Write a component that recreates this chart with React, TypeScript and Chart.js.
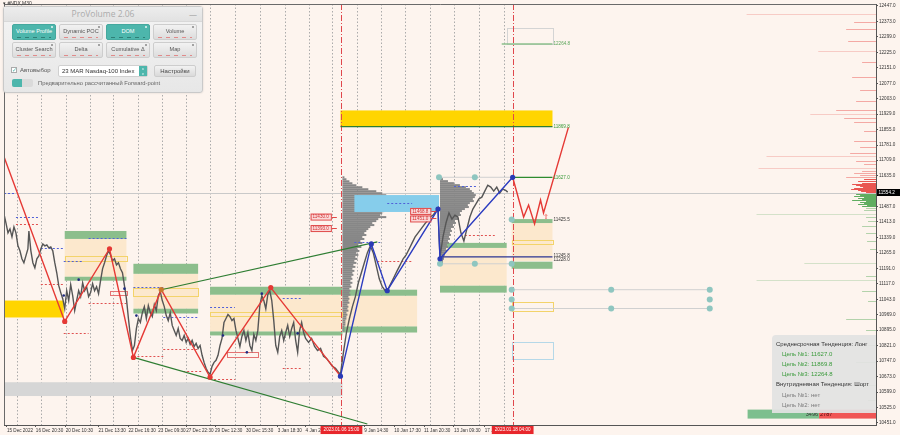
import React, { useEffect, useRef } from "react";
import { Chart, registerables } from "chart.js";

Chart.register(...registerables);

// ---------- axes ----------
const X_MIN = 0;
const X_MAX = 876;
const Y_MIN = 10441.3;
const Y_MAX = 12456.5;

const yTickValues = [12447, 12373, 12299, 12225, 12151, 12077, 12003, 11929, 11855, 11781, 11709, 11635, 11487, 11413, 11339, 11265, 11191, 11117, 11043, 10969, 10895, 10821, 10747, 10673, 10599, 10525, 10451];

const timeLabelBars = [3, 32, 62, 95, 125, 155, 183, 212, 243, 275, 303, 362, 392, 422, 452, 483];
const timeLabels = ["15 Dec 2022", "16 Dec 20:30", "20 Dec 10:30", "21 Dec 13:30", "22 Dec 16:30", "23 Dec 09:30", "27 Dec 22:30", "29 Dec 12:30", "30 Dec 15:30", "3 Jan 18:30", "4 Jan 21:30", "9 Jan 14:30", "10 Jan 17:30", "11 Jan 20:30", "13 Jan 09:30", "17 Jan 12:30"];

const sessionBars = [13, 37, 62, 86, 110, 135, 159, 183, 207, 232, 257, 282, 306, 330, 355, 379, 403, 428, 452, 477, 502];

const markerBars = [339, 511];
const markerLabels = ["2023.01.06 15:00", "2023.01.18 04:00"];

const currentPrice = 11554.2;

// ---------- price (bar, close) ----------
const pricePath: [number, number][] = [
  [0, 11451], [2, 11408], [4, 11361], [6, 11380], [8, 11342], [10, 11389], [12, 11361], [14, 11299], [16, 11275], [18, 11237],
  [20, 11218], [22, 11251], [24, 11284], [25, 11370], [27, 11275], [29, 11218], [31, 11194], [33, 11237], [35, 11251], [37, 11284],
  [39, 11308], [41, 11299], [43, 11303], [45, 11289], [47, 11294], [49, 11275], [51, 11218], [53, 11170], [55, 11108], [57, 11075],
  [59, 11046], [61, 10998], [63, 11084], [65, 11037], [67, 11113], [69, 11060], [71, 10989], [73, 11037], [75, 11084], [77, 11056],
  [79, 11122], [81, 11084], [83, 11103], [85, 11056], [87, 11075], [89, 11118], [91, 11084], [93, 11103], [95, 11070], [97, 11132],
  [99, 11189], [101, 11218], [103, 11251], [105, 11275], [107, 11256], [109, 11227], [111, 11237], [113, 11208], [115, 11218], [117, 11189],
  [119, 11170], [121, 11108], [123, 11046], [125, 10951], [127, 10865], [129, 10798], [131, 10822], [133, 10903], [135, 10951], [137, 10932],
  [139, 10979], [141, 11008], [143, 10951], [145, 11013], [147, 10979], [149, 10960], [151, 11017], [153, 10989], [155, 11060], [157, 11080],
  [159, 11037], [161, 11008], [163, 10965], [165, 10941], [167, 10979], [169, 10918], [171, 10894], [173, 10870], [175, 10903], [177, 10856],
  [179, 10846], [181, 10870], [183, 10837], [185, 10856], [187, 10827], [189, 10846], [191, 10817], [193, 10832], [195, 10808], [197, 10822],
  [199, 10775], [201, 10741], [203, 10713], [205, 10694], [207, 10684], [209, 10722], [211, 10741], [213, 10751], [215, 10775], [217, 10822],
  [219, 10856], [221, 10932], [223, 10951], [225, 10970], [227, 10960], [229, 10941], [231, 10951], [233, 10894], [235, 10856], [237, 10817],
  [239, 10865], [241, 10894], [243, 10846], [245, 10884], [247, 10822], [249, 10798], [251, 10875], [253, 10846], [255, 10894], [257, 11013],
  [259, 11060], [261, 11037], [263, 10998], [265, 11065], [267, 11084], [269, 11037], [271, 10941], [273, 10822], [275, 10789], [277, 10865],
  [279, 10894], [281, 10846], [283, 10884], [285, 10918], [287, 10865], [289, 10903], [291, 10932], [293, 10846], [295, 10789], [297, 10894],
  [299, 10932], [301, 10884], [303, 10856], [306, 10837], [309, 10856], [312, 10817], [315, 10798], [318, 10808], [321, 10770], [324, 10760],
  [327, 10741], [330, 10722], [333, 10713], [336, 10694], [338, 10684], [341, 10789], [344, 10884], [347, 10951], [350, 11008], [353, 11056],
  [356, 11122], [359, 11170], [362, 11218], [365, 11265], [368, 11299], [371, 11265], [374, 11203], [377, 11141], [380, 11103], [383, 11084],
  [386, 11094], [389, 11122], [392, 11151], [395, 11180], [398, 11208], [401, 11237], [404, 11256], [407, 11284], [410, 11313], [413, 11342],
  [416, 11361], [419, 11380], [422, 11399], [425, 11418], [428, 11437], [431, 11446], [434, 11465], [436, 11480], [437, 11346], [438, 11246],
  [441, 11342], [444, 11408], [447, 11456], [450, 11427], [453, 11446], [456, 11437], [459, 11361], [462, 11322], [465, 11380], [468, 11437],
  [471, 11475], [474, 11499], [477, 11523], [480, 11532], [483, 11561], [486, 11589], [489, 11580], [492, 11561], [495, 11580], [498, 11551],
  [501, 11570], [504, 11565], [506, 11556],
];

// ---------- zigzags / trend lines ----------
const redZigzag: [number, number][] = [[0, 11725], [61, 10937], [106, 11285], [130, 10765], [158, 11089], [207, 10670], [268, 11099], [338, 10675]];
const redPivotBars = [61, 106, 130, 158, 207, 268];
const blueZigzag: [number, number][] = [[338, 10675], [369, 11308], [385, 11084], [436, 11475], [438, 11237], [511, 11627]];
const forecastPath: [number, number][] = [[511, 11627], [522, 11437], [527, 11494], [533, 11404], [539, 11518], [542, 11456], [567, 11866]];
const trendUpper: [number, number][] = [[158, 11089], [375, 11318]];
const trendLower: [number, number][] = [[130, 10765], [365, 10446]];

const targetLines: [number, number, number, string][] = [
  [500, 551, 12264.8, "light"],
  [338, 551, 11869.8, "dark"],
  [511, 551, 11627.0, "green"],
  [438, 551, 11245.8, "navy"],
];
const levelLabels: [number, string, string][] = [
  [12264.8, "12264.8", "light"],
  [11869.8, "11869.8", "green"],
  [11627.0, "11627.0", "green"],
  [11425.5, "11425.5", "text"],
  [11250.0, "11245.8", "text"],
  [11232.0, "11228.0", "text"],
];

const tealDots: [number, number][] = [[437, 11627], [473, 11627], [438, 11213], [473, 11213], [510, 11425.5], [510, 11213], [510, 11089], [610, 11089], [709, 11089], [510, 11042], [709, 11042], [510, 10999], [610, 10999], [709, 10999]];
const tealLines: [number, number, number][] = [[437, 511, 11627], [438, 510, 11213], [510, 709, 11089], [510, 709, 10999]];
const smallPriceDots: [number, number][] = [[60, 11061], [75, 11137], [121, 11094], [133, 10965], [220, 10870], [244, 10789], [259, 11070], [295, 10880]];

// ---------- zones [barFrom, barTo, priceTop, priceBottom, kind] ----------
const zones: [number, number, number, number, string][] = [
  [61, 123, 11332, 11151, "beige"],
  [130, 195, 11165, 10998, "beige"],
  [207, 340, 11065, 10889, "beige"],
  [340, 415, 11060, 10913, "beige"],
  [438, 505, 11289, 11108, "beige"],
  [510, 551, 11408, 11227, "beige"],
  [0, 60, 11037, 10956, "gold"],
  [338, 551, 11947, 11870, "gold"],
  [0, 340, 10646, 10580, "gray"],
  [61, 123, 11370, 11332, "green"],
  [61, 123, 11151, 11132, "green"],
  [130, 195, 11213, 11165, "green"],
  [130, 195, 10998, 10975, "green"],
  [207, 340, 11103, 11065, "green"],
  [207, 340, 10889, 10870, "green"],
  [340, 415, 11089, 11060, "green"],
  [340, 415, 10913, 10884, "green"],
  [438, 505, 11313, 11289, "green"],
  [438, 505, 11108, 11075, "green"],
  [510, 551, 11427, 11408, "green"],
  [510, 551, 11223, 11189, "green"],
];
const zoneOutlines: [number, number, number, number, string][] = [
  [61, 123, 11251, 11227, "yellow"],
  [106, 123, 11084, 11065, "red"],
  [130, 195, 11099, 11060, "yellow"],
  [207, 340, 10984, 10965, "yellow"],
  [224, 255, 10789, 10765, "red"],
  [510, 551, 11327, 11308, "yellow"],
  [510, 551, 11032, 10989, "yellow"],
  [510, 551, 10837, 10756, "blue"],
  [505, 551, 12342, 12266, "gray"],
];
const skyBand: [number, number, number, number] = [352, 437, 11542, 11461];

const pocLevels: [number, number, number][] = [[0, 12, 11551], [12, 35, 11437], [37, 60, 11289], [60, 80, 11227], [85, 123, 11337], [130, 160, 11103], [160, 195, 10956], [207, 232, 11004], [280, 300, 11051], [352, 378, 11318], [385, 410, 11504], [452, 475, 11585]];
const redLevels: [number, number, number][] = [[12, 35, 11404], [37, 60, 11118], [60, 85, 10880], [85, 123, 11023], [130, 160, 10770], [160, 195, 10803], [180, 200, 10699], [207, 232, 10660], [280, 300, 10713], [375, 410, 11227], [463, 493, 11351]];
const priceTags: [number, number, string][] = [[308, 11439, "11430.0"], [308, 11384, "11393.0"], [408, 11466, "11468.8"], [408, 11430, "11451.0"]];

// ---------- volume profiles ----------
const profileStep = 9.53;
const profile1Base = 340;
const profile1Top = 11627;
const profile1Vols = [2, 4, 7, 10, 14, 20, 26, 34, 40, 44, 46, 48, 47, 45, 48, 46, 44, 42, 40, 38, 44, 36, 34, 30, 32, 28, 26, 24, 22, 24, 20, 22, 18, 20, 16, 19, 15, 17, 14, 16, 13, 15, 12, 14, 11, 13, 10, 12, 10, 11, 9, 10, 8, 10, 8, 9, 7, 8, 7, 8, 6, 7, 6, 7, 5, 6, 5, 6, 4, 5, 4, 4, 3, 3, 3, 2, 2, 2];
const profile2Base = 438;
const profile2Top = 11618;
const profile2Vols = [3, 8, 14, 20, 26, 30, 32, 34, 36, 35, 33, 34, 30, 28, 29, 25, 22, 20, 21, 18, 19, 15, 16, 13, 14, 11, 12, 10, 11, 9, 10, 8, 9, 7, 8, 6, 7, 5, 5, 4, 4, 3, 3, 2];

// ---------- depth of market [price, size] ----------
const domAsk: [number, number][] = [[12409, 130], [12371, 22], [12337, 30], [12280, 28], [12233, 58], [12180, 14], [12109, 24], [12047, 16], [11990, 20], [11947, 40], [11928, 66], [11913, 32], [11894, 22], [11847, 12], [11799, 22], [11770, 16], [11742, 26], [11728, 110], [11704, 20], [11690, 12], [11670, 118], [11656, 14], [11647, 22], [11637, 16], [11628, 30], [11618, 12], [11609, 18], [11599, 14], [11594, 24], [11589, 20], [11584, 16], [11580, 13], [11575, 22], [11570, 25], [11566, 18], [11561, 15], [11557, 10]];
const domBid: [number, number][] = [[11549, 20], [11544, 16], [11539, 22], [11535, 12], [11530, 18], [11525, 14], [11520, 24], [11515, 10], [11510, 16], [11505, 12], [11499, 18], [11494, 9], [11489, 14], [11480, 10], [11470, 12], [11451, 120], [11437, 10], [11418, 8], [11394, 14], [11361, 10], [11322, 9], [11284, 6], [11218, 72], [11156, 10], [11137, 120], [11084, 14], [11037, 8], [10951, 30], [10894, 10], [10822, 8], [10741, 20], [10631, 15], [10560, 8], [10512, 12]];

const bidVolume = 3496;
const askVolume = 2787;

// ---------- styles ----------
const BG = "#FDF4EE";
const FONT = "Liberation Sans, Arial, sans-serif";
const zoneFill: Record<string, string> = { beige: "#FCE8CD", gold: "#FFD500", gray: "#D6D6D6", green: "#8CBE8C" };
const outlineColor: Record<string, string> = { yellow: "#F3D36A", red: "#E57373", blue: "#B5D8E8", gray: "#D4D4D4" };
const lineColor: Record<string, string> = { light: "#8CC08C", dark: "#2E7D32", green: "#2E8B2E", navy: "#2B3592" };
const labelColor: Record<string, string> = { light: "#5AA55A", green: "#3B9B3B", text: "#333333" };

const xy = (a: [number, number][]) => a.map(([x, y]) => ({ x, y }));

const mt4Plugin = {
  id: "mt4",
  beforeDatasetsDraw(chart: any) {
    const { ctx, chartArea: ca } = chart;
    const xs = chart.scales.x;
    const ys = chart.scales.y;
    const X = (v: number) => xs.getPixelForValue(v);
    const Y = (v: number) => ys.getPixelForValue(v);
    ctx.save();
    ctx.beginPath();
    ctx.rect(ca.left, ca.top, ca.right - ca.left, ca.bottom - ca.top);
    ctx.clip();

    // session separators
    ctx.strokeStyle = "#ABABAB";
    ctx.lineWidth = 1;
    ctx.setLineDash([1.5, 2]);
    for (const b of sessionBars) {
      const px = Math.round(X(b)) + 0.5;
      ctx.beginPath();
      ctx.moveTo(px, ca.top);
      ctx.lineTo(px, ca.bottom);
      ctx.stroke();
    }
    ctx.setLineDash([]);

    // depth of market
    const drawDom = (levels: [number, number][], rgb: string) => {
      for (const [p, s] of levels) {
        const a = s >= 50 ? 0.22 : Math.abs(p - currentPrice) < 70 ? 0.85 : 0.4;
        ctx.fillStyle = `rgba(${rgb},${a})`;
        const x0 = X(X_MAX - s);
        ctx.fillRect(x0, Math.round(Y(p)), X(X_MAX) - x0, 1);
      }
    };
    drawDom(domAsk, "229,57,53");
    drawDom(domBid, "67,160,71");

    // current price line
    ctx.strokeStyle = "#C9C9C9";
    const cy = Math.round(Y(currentPrice)) + 0.5;
    ctx.beginPath();
    ctx.moveTo(ca.left, cy);
    ctx.lineTo(ca.right, cy);
    ctx.stroke();

    // zones
    for (const [x0, x1, t, b, k] of zones) {
      ctx.fillStyle = zoneFill[k];
      const yt = Y(t);
      const yb = Y(b);
      ctx.fillRect(X(x0), yt, X(x1) - X(x0), yb - yt);
    }

    // volume profiles
    const drawProfile = (base: number, top: number, vols: number[]) => {
      ctx.fillStyle = "#878787";
      vols.forEach((v, i) => {
        const p = top - i * profileStep;
        const y0 = Y(p + profileStep / 2);
        const y1 = Y(p - profileStep / 2);
        ctx.fillRect(X(base), y0, X(base + v) - X(base), y1 - y0);
      });
    };
    drawProfile(profile1Base, profile1Top, profile1Vols);
    drawProfile(profile2Base, profile2Top, profile2Vols);

    // sky band
    {
      const [x0, x1, t, b] = skyBand;
      ctx.fillStyle = "#86CDEB";
      ctx.fillRect(X(x0), Y(t), X(x1) - X(x0), Y(b) - Y(t));
    }

    // outlines
    ctx.lineWidth = 1;
    for (const [x0, x1, t, b, k] of zoneOutlines) {
      ctx.strokeStyle = outlineColor[k];
      const l = Math.round(X(x0)) + 0.5;
      const tt = Math.round(Y(t)) + 0.5;
      ctx.strokeRect(l, tt, Math.round(X(x1) - X(x0)), Math.round(Y(b) - Y(t)));
    }

    // dotted levels
    ctx.setLineDash([2, 2]);
    const dl = (arr: [number, number, number][], c: string) => {
      ctx.strokeStyle = c;
      for (const [a, b, p] of arr) {
        const yy = Math.round(Y(p)) + 0.5;
        ctx.beginPath();
        ctx.moveTo(X(a), yy);
        ctx.lineTo(X(b), yy);
        ctx.stroke();
      }
    };
    dl(pocLevels, "#5060D8");
    dl(redLevels, "#E05050");

    // marker verticals
    ctx.strokeStyle = "#E0474C";
    ctx.setLineDash([6, 2, 1, 2]);
    for (const b of markerBars) {
      const px = Math.round(X(b)) + 0.5;
      ctx.beginPath();
      ctx.moveTo(px, ca.top);
      ctx.lineTo(px, ca.bottom);
      ctx.stroke();
    }
    ctx.setLineDash([]);
    ctx.restore();
  },
  afterDraw(chart: any) {
    const { ctx, chartArea: ca } = chart;
    const xs = chart.scales.x;
    const ys = chart.scales.y;
    const X = (v: number) => xs.getPixelForValue(v);
    const Y = (v: number) => ys.getPixelForValue(v);
    ctx.save();

    // frame top/left
    ctx.strokeStyle = "#6A6A6A";
    ctx.lineWidth = 1;
    ctx.beginPath();
    ctx.moveTo(ca.left + 0.5, ca.bottom);
    ctx.lineTo(ca.left + 0.5, ca.top + 0.5);
    ctx.lineTo(ca.right, ca.top + 0.5);
    ctx.stroke();

    ctx.font = `4.6px ${FONT}`;
    ctx.textBaseline = "middle";
    ctx.textAlign = "left";
    // level labels
    const labelBar = 552;
    for (const [p, t, k] of levelLabels) {
      ctx.fillStyle = labelColor[k];
      ctx.fillText(t, X(labelBar), Y(p));
    }

    // red price tags
    for (const [b, p, t] of priceTags) {
      const w = ctx.measureText(t).width + 4;
      const x0 = X(b);
      const y0 = Y(p);
      ctx.fillStyle = "#FAD9D9";
      ctx.fillRect(x0, y0 - 3, w, 6);
      ctx.strokeStyle = "#E04848";
      ctx.strokeRect(x0 + 0.5, y0 - 3 + 0.5, w, 6);
      ctx.fillStyle = "#D32F2F";
      ctx.fillText(t, x0 + 2, y0 + 0.5);
      ctx.beginPath();
      ctx.moveTo(x0 + w + 1, Math.round(y0) + 0.5);
      ctx.lineTo(x0 + w + 6, Math.round(y0) + 0.5);
      ctx.stroke();
    }

    // forecast arrow
    ctx.fillStyle = "#E53935";
    ctx.font = `7px ${FONT}`;
    ctx.textAlign = "center";
    ctx.fillText("⇧", X(544), Y(11438));

    // bid/ask volume bar
    const barFrom = 747;
    const barTo = 876;
    const split = barFrom + ((barTo - barFrom) * bidVolume) / (bidVolume + askVolume);
    const by0 = Y(10515);
    const by1 = Y(10472);
    ctx.fillStyle = "#7DBF8E";
    ctx.fillRect(X(barFrom), by0, X(split) - X(barFrom), by1 - by0);
    ctx.fillStyle = "#F05454";
    ctx.fillRect(X(split), by0, X(barTo) - X(split), by1 - by0);
    ctx.font = `5.5px ${FONT}`;
    ctx.fillStyle = "#333";
    ctx.textAlign = "right";
    ctx.fillText(String(bidVolume), X(split) - 1, (by0 + by1) / 2);
    ctx.fillStyle = "#4A0A0A";
    ctx.textAlign = "left";
    ctx.fillText(String(askVolume), X(split) + 1, (by0 + by1) / 2);

    // current price box
    const cy = Y(currentPrice);
    ctx.fillStyle = "#000";
    ctx.fillRect(ca.right + 1, cy - 3.5, 23, 7);
    ctx.fillStyle = "#fff";
    ctx.font = `4.6px ${FONT}`;
    ctx.textAlign = "left";
    ctx.fillText(currentPrice.toFixed(1), ca.right + 2.5, cy + 0.3);

    // marker time labels
    ctx.font = `4.6px ${FONT}`;
    markerBars.forEach((b, i) => {
      const t = markerLabels[i];
      const w = ctx.measureText(t).width + 6;
      const cx = X(b);
      ctx.fillStyle = "#E8262B";
      ctx.fillRect(cx - w / 2, ca.bottom + 1, w, 8);
      ctx.fillStyle = "#fff";
      ctx.textAlign = "center";
      ctx.fillText(t, cx, ca.bottom + 5.2);
    });
    ctx.restore();
  },
};

function buildDatasets() {
  const line = (data: [number, number][], color: string, width: number, order: number, extra: any = {}) => ({
    type: "line",
    data: xy(data),
    borderColor: color,
    borderWidth: width,
    pointRadius: 0,
    fill: false,
    tension: 0,
    order,
    ...extra,
  });
  const ds: any[] = [];
  // dots
  const redPivots = redZigzag.filter(([b]) => redPivotBars.includes(b));
  ds.push({
    type: "line", data: xy(redPivots), showLine: false, order: 0, pointRadius: 2.6, borderWidth: 0,
    pointBackgroundColor: redPivots.map(([b]) => (b === 158 ? "#C8782C" : "#E53935")),
  });
  ds.push({ type: "line", data: xy(blueZigzag), showLine: false, order: 0, pointRadius: 2.6, borderWidth: 0, pointBackgroundColor: "#2A3AB5" });
  ds.push({ type: "line", data: xy(tealDots), showLine: false, order: 0, pointRadius: 3, borderWidth: 0, pointBackgroundColor: "#8FC6C0" });
  ds.push({ type: "line", data: xy(smallPriceDots), showLine: false, order: 0, pointRadius: 1.3, borderWidth: 0, pointBackgroundColor: "#1F2A80" });
  // zigzags
  ds.push(line(redZigzag, "#E53935", 1.4, 1));
  ds.push(line(blueZigzag, "#2B3BC0", 1.4, 1));
  ds.push(line(forecastPath, "#E53935", 1.4, 1));
  ds.push(line(trendUpper, "#2E7D32", 1.1, 2));
  ds.push(line(trendLower, "#2E7D32", 1.1, 2));
  // targets
  for (const [a, b, p, k] of targetLines) {
    ds.push(line([[a, p], [b, p]], lineColor[k], k === "light" ? 1.6 : 1.2, 3));
  }
  for (const [a, b, p] of tealLines) {
    ds.push(line([[a, p], [b, p]], "#D0D0D0", 1, 3));
  }
  // price
  ds.push(line(pricePath, "#565656", 1.4, 4));
  return ds;
}

function Btn({ left, top, label, active }: { left: number; top: number; label: string; active: boolean }) {
  return (
    <div
      style={{
        position: "absolute", left, top, width: 44, height: 16, boxSizing: "border-box", borderRadius: 2,
        background: active ? "#4DB6AC" : "linear-gradient(#F2F2F2, #DCDCDC)",
        border: `1px solid ${active ? "#45A89E" : "#CDCDCD"}`,
        color: active ? "#FFFFFF" : "#555555", fontSize: 5.6, fontFamily: FONT,
        display: "flex", alignItems: "center", justifyContent: "center", lineHeight: 1,
      }}
    >
      {label}
      <div style={{ position: "absolute", right: 2, top: 1, width: 2, height: 2, borderRadius: 1, background: active ? "#E8F6F4" : "#888" }} />
      <div style={{ position: "absolute", left: 4, right: 4, bottom: 1.5, height: 1, background: `repeating-linear-gradient(90deg, ${active ? "#2F7F77" : "#E08A8A"} 0 4px, transparent 4px 8px)` }} />
    </div>
  );
}

const row1: [string, boolean][] = [["Volume Profile", true], ["Dynamic POC", false], ["DOM", true], ["Volume", false]];
const row2: [string, boolean][] = [["Cluster Search", false], ["Delta", false], ["Cumulative Δ", false], ["Map", false]];

const infoLines: [string, string, number][] = [
  ["Среднесрочная Тенденция: Лонг", "head", 344],
  ["Цель №1: 11627.0", "goal", 353.5],
  ["Цель №2: 11869.8", "goal", 363.5],
  ["Цель №3: 12264.8", "goal", 373.5],
  ["Внутридневная Тенденция: Шорт", "head", 384],
  ["Цель №1: нет", "none", 394.5],
  ["Цель №2: нет", "none", 405],
];

export default function App() {
  const ref = useRef<HTMLCanvasElement>(null);
  useEffect(() => {
    document.body.style.margin = "0";
    document.body.style.background = BG;
    const canvas = ref.current!;
    const chart = new Chart(canvas, {
      type: "line",
      data: { datasets: buildDatasets() },
      options: {
        responsive: false,
        animation: false,
        events: [],
        layout: { padding: { top: 2, left: 0, right: 0, bottom: 0 } },
        plugins: { legend: { display: false }, tooltip: { enabled: false } },
        scales: {
          x: {
            type: "linear", min: X_MIN, max: X_MAX, position: "bottom",
            afterBuildTicks: (s: any) => { s.ticks = timeLabelBars.map((v) => ({ value: v })); },
            afterFit: (s: any) => { s.height = 10; s.paddingLeft = 0; s.paddingRight = 0; },
            ticks: {
              autoSkip: false, maxRotation: 0, minRotation: 0, align: "start", padding: 1,
              font: { size: 4.6, family: FONT }, color: "#333",
              callback: (_v: any, i: number) => timeLabels[i],
            },
            grid: { drawOnChartArea: false, tickLength: 2, color: "#555" },
            border: { color: "#555" },
          },
          y: {
            type: "linear", position: "right", min: Y_MIN, max: Y_MAX,
            afterBuildTicks: (s: any) => { s.ticks = yTickValues.map((v) => ({ value: v })); },
            afterFit: (s: any) => { s.width = 24; s.paddingTop = 0; s.paddingBottom = 0; },
            ticks: {
              autoSkip: false, padding: 1, font: { size: 4.6, family: FONT }, color: "#333",
              callback: (v: any) => Number(v).toFixed(1),
            },
            grid: { drawOnChartArea: false, tickLength: 2, color: "#555" },
            border: { color: "#555" },
          },
        },
      } as any,
      plugins: [mt4Plugin],
    } as any);
    return () => chart.destroy();
  }, []);

  return (
    <div style={{ position: "relative", width: 900, height: 435, overflow: "hidden", background: BG, fontFamily: FONT }}>
      <canvas ref={ref} width={900} height={435} style={{ display: "block", width: 900, height: 435 }} />
      <div style={{ position: "absolute", left: 3, top: 0, fontSize: 5, color: "#333", lineHeight: "6px" }}>▾ #NDX,M30</div>

      {/* ProVolume panel */}
      <div
        style={{
          position: "absolute", left: 3, top: 6, width: 200, height: 87, boxSizing: "border-box",
          border: "1px solid #C9C9C9", borderRadius: 3, background: "linear-gradient(#F4F4F4, #E7E7E7)",
          boxShadow: "0 0 2px rgba(0,0,0,0.15)",
        }}
      >
        <div style={{ position: "absolute", left: 0, right: 0, top: 0, height: 14, borderBottom: "1px solid #D8D8D8", background: "linear-gradient(#EDEDED, #E2E2E2)", textAlign: "center", fontSize: 8.5, lineHeight: "14px", color: "#ABABAB", fontFamily: '"Open Sans", sans-serif' }}>
          ProVolume 2.06
          <span style={{ position: "absolute", right: 5, top: 0, color: "#9A9A9A", fontSize: 8 }}>—</span>
        </div>
        {row1.map(([l, a], i) => <Btn key={l} left={8 + i * 47} top={17} label={l} active={a} />)}
        {row2.map(([l, a], i) => <Btn key={l} left={8 + i * 47} top={35} label={l} active={a} />)}
        <div style={{ position: "absolute", left: 7, top: 60, width: 6, height: 6, boxSizing: "border-box", border: "1px solid #AAA", background: "#fff", fontSize: 6, lineHeight: "5px", color: "#4DB6AC", textAlign: "center" }}>✓</div>
        <div style={{ position: "absolute", left: 16, top: 58, fontSize: 6, lineHeight: "10px", color: "#555" }}>Автовыбор</div>
        <div style={{ position: "absolute", left: 54, top: 58, width: 90, height: 12, boxSizing: "border-box", background: "#fff", border: "1px solid #D0D0D0", borderRadius: 2, fontSize: 6, lineHeight: "10px", color: "#333", paddingLeft: 3 }}>
          23 MAR Nasdaq-100 Index
          <div style={{ position: "absolute", right: 0, top: 0, width: 8, height: 10, background: "#4DB6AC", color: "#fff", fontSize: 4, lineHeight: "5px", textAlign: "center" }}>˄<br />˅</div>
        </div>
        <div style={{ position: "absolute", left: 150, top: 58, width: 42, height: 12, boxSizing: "border-box", background: "linear-gradient(#F2F2F2, #DADADA)", border: "1px solid #CDCDCD", borderRadius: 2, fontSize: 6, lineHeight: "10px", color: "#444", textAlign: "center" }}>Настройки</div>
        <div style={{ position: "absolute", left: 8, top: 72, width: 21, height: 8, borderRadius: 2, background: "#DADADA", overflow: "hidden" }}>
          <div style={{ width: 10, height: 8, background: "#4DB6AC" }} />
        </div>
        <div style={{ position: "absolute", left: 34, top: 71, fontSize: 5.8, lineHeight: "10px", color: "#666", whiteSpace: "nowrap" }}>Предварительно рассчитанный Forward-point</div>
      </div>

      {/* info box */}
      <div style={{ position: "absolute", left: 772, top: 335, width: 104, height: 78, background: "rgba(226,226,226,0.93)", borderTopLeftRadius: 4 }} />
      {infoLines.map(([t, k, y]) => (
        <div
          key={t + y}
          style={{
            position: "absolute", left: k === "head" ? 776 : 782, top: y - 4, height: 8, lineHeight: "8px", fontSize: 6, whiteSpace: "nowrap",
            color: k === "head" ? "#333" : k === "goal" ? "#3A9A3A" : "#7A7A7A",
          }}
        >
          {t}
        </div>
      ))}
    </div>
  );
}
